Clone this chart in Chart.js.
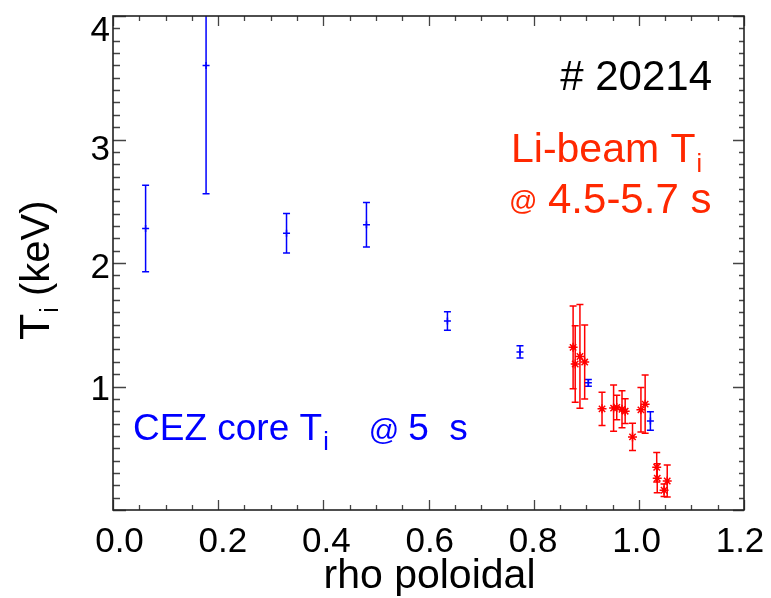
<!DOCTYPE html>
<html>
<head>
<meta charset="utf-8">
<script src="https://cdn.jsdelivr.net/npm/chart.js@4.4.1/dist/chart.umd.min.js"></script>
<style>
  html, body { margin: 0; padding: 0; background: #fff; }
</style>
</head>
<body>
<canvas id="ti" width="771" height="598"></canvas>
<script>
// CEZ core Ti at 5 s
var cezRho = [0.062, 0.177, 0.330, 0.482, 0.636, 0.774, 0.904, 1.022];
var cezTi  = [2.28, 3.60, 2.24, 2.31, 1.53, 1.28, 1.03, 0.72];
var cezErr = [0.35, 1.04, 0.16, 0.18, 0.075, 0.05, 0.027, 0.075];

// Li-beam Ti, 4.5-5.7 s
var liRho = [0.875, 0.879, 0.888, 0.897, 0.930, 0.952, 0.958, 0.968, 0.974, 0.988, 1.004, 1.012, 1.034, 1.035, 1.048, 1.054];
var liTi  = [1.317, 1.182, 1.243, 1.198, 0.819, 0.825, 0.830, 0.815, 0.800, 0.592, 0.811, 0.857, 0.346, 0.257, 0.160, 0.235];
var liErr = [0.335, 0.31, 0.42, 0.30, 0.135, 0.187, 0.10, 0.15, 0.10, 0.111, 0.18, 0.236, 0.12, 0.117, 0.05, 0.13];

var xTicks = [0.0, 0.2, 0.4, 0.6, 0.8, 1.0, 1.2];
var yTicks = [1, 2, 3, 4];
var yLabelNudge = [1, 2, 8, 12];

var FONT = '"Liberation Sans", Arial, Helvetica, sans-serif';

function points(xs, ys, es) {
    return xs.map(function (x, i) { return { x: x, y: ys[i], err: es[i] }; });
}

var errorBars = {
    id: 'errorBars',
    beforeDatasetsDraw: function (chart) {
        var ctx = chart.ctx, a = chart.chartArea;
        var xs = chart.scales.x, ys = chart.scales.y;
        ctx.save();
        ctx.beginPath();
        ctx.rect(a.left, a.top, a.right - a.left, a.bottom - a.top);
        ctx.clip();
        chart.data.datasets.forEach(function (ds) {
            ctx.strokeStyle = ds.borderColor;
            ctx.lineWidth = 1.5;
            ds.data.forEach(function (p) {
                var px = xs.getPixelForValue(p.x);
                var top = ys.getPixelForValue(p.y + p.err);
                var bot = ys.getPixelForValue(p.y - p.err);
                ctx.beginPath();
                ctx.moveTo(px, top); ctx.lineTo(px, bot);
                ctx.moveTo(px - 3.5, top); ctx.lineTo(px + 3.5, top);
                ctx.moveTo(px - 3.5, bot); ctx.lineTo(px + 3.5, bot);
                ctx.stroke();
            });
        });
        ctx.restore();
    }
};

// text runs with subscripts: [text, size, dx before, dy]
function drawRuns(ctx, x, y, runs, color) {
    ctx.fillStyle = color;
    ctx.textAlign = 'left';
    ctx.textBaseline = 'alphabetic';
    runs.forEach(function (r) {
        x += r[2];
        ctx.font = r[1] + 'px ' + FONT;
        ctx.fillText(r[0], x, y + r[3]);
        x += ctx.measureText(r[0]).width;
    });
}

var frame = {
    id: 'frame',
    afterDraw: function (chart) {
        var ctx = chart.ctx, a = chart.chartArea;
        var xs = chart.scales.x, ys = chart.scales.y;
        var i, p, len;
        ctx.save();

        // inward ticks on all four sides
        ctx.strokeStyle = '#444';
        ctx.lineWidth = 1.3;
        ctx.beginPath();
        for (i = 0; i <= 24; i++) {
            p = Math.round(xs.getPixelForValue(i * 0.05)) + 0.5;
            len = i % 4 === 0 ? 10 : 5;
            ctx.moveTo(p, a.bottom); ctx.lineTo(p, a.bottom - len);
            ctx.moveTo(p, a.top); ctx.lineTo(p, a.top + len);
        }
        for (i = 0; i <= 40; i++) {
            p = Math.round(ys.getPixelForValue(i * 0.1)) + 0.5;
            len = i % 10 === 0 ? 13 : 7;
            ctx.moveTo(a.left, p); ctx.lineTo(a.left + len, p);
            ctx.moveTo(a.right, p); ctx.lineTo(a.right - (len - 2), p);
        }
        ctx.stroke();

        ctx.strokeStyle = '#222';
        ctx.lineWidth = 1.6;
        ctx.strokeRect(a.left, a.top, a.right - a.left, a.bottom - a.top);

        // tick labels
        ctx.fillStyle = '#000';
        ctx.font = '35px ' + FONT;
        ctx.textAlign = 'center';
        ctx.textBaseline = 'alphabetic';
        xTicks.forEach(function (t) {
            var px = xs.getPixelForValue(t);
            var shift = 6.5 - 10.5 * (px - a.left) / (a.right - a.left);
            ctx.fillText(t.toFixed(1), px + shift, 551.5);
        });
        ctx.textAlign = 'right';
        yTicks.forEach(function (t, k) {
            ctx.fillText(String(t), 110, ys.getPixelForValue(t) + 12.5 + yLabelNudge[k]);
        });

        // axis titles
        ctx.textAlign = 'center';
        ctx.font = '41px ' + FONT;
        ctx.fillText('rho poloidal', (a.left + a.right) / 2 + 1, 588);

        ctx.save();
        ctx.translate(49, 340);
        ctx.rotate(-Math.PI / 2);
        drawRuns(ctx, 0, 0, [['T', 43, 0, 0], ['i', 25, 1, 9], [' (keV)', 40, 0, 0]], '#000');
        ctx.restore();

        // annotations
        ctx.textAlign = 'right';
        ctx.fillStyle = '#000';
        ctx.font = '42px ' + FONT;
        ctx.fillText('# 20214', 712, 90);

        drawRuns(ctx, 511, 162, [['Li-beam T', 41, 0, 0], ['i', 25, 1, 10]], '#ff2800');
        drawRuns(ctx, 509, 210, [['@', 28, 0, 0]], '#ff2800');
        drawRuns(ctx, 548, 213, [['4.5-5.7 s', 42, 0, 0]], '#ff2800');

        drawRuns(ctx, 133, 440, [['CEZ core T', 37, 0, 0], ['i', 25, 1, 10], ['@', 30, 40, 0], ['5  s', 37, 9, 0]], '#0000ff');

        ctx.restore();
    }
};

new Chart(document.getElementById('ti'), {
    type: 'scatter',
    data: {
        datasets: [
            {
                label: 'CEZ core',
                data: points(cezRho, cezTi, cezErr),
                pointStyle: 'cross',
                pointRadius: 3.5,
                pointBorderWidth: 1.5,
                borderColor: '#0000ff',
                backgroundColor: '#0000ff'
            },
            {
                label: 'Li-beam',
                data: points(liRho, liTi, liErr),
                pointStyle: 'star',
                pointRadius: 4.5,
                pointBorderWidth: 1.5,
                borderColor: '#ff0000',
                backgroundColor: '#ff0000'
            }
        ]
    },
    options: {
        responsive: false,
        animation: false,
        devicePixelRatio: 1,
        layout: { padding: { left: 113, top: 16, right: 27, bottom: 88 } },
        scales: {
            x: { type: 'linear', min: 0, max: 1.2, display: false },
            y: { type: 'linear', min: 0, max: 4, display: false }
        },
        plugins: {
            legend: { display: false },
            tooltip: { enabled: false }
        }
    },
    plugins: [errorBars, frame]
});
</script>
</body>
</html>
